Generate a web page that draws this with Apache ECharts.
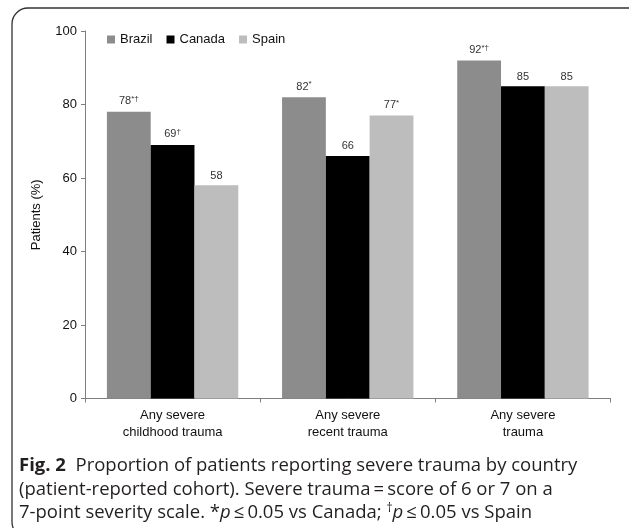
<!DOCTYPE html>
<html>
<head>
<meta charset="utf-8">
<script src="https://cdn.jsdelivr.net/npm/echarts@6/dist/echarts.min.js"></script>
<style>
  html, body { margin: 0; padding: 0; background: #fff; }
  #chart { width: 629px; height: 528px; }
</style>
</head>
<body>
<div id="chart"></div>
<script>
const categories = ['Any severe\nchildhood trauma', 'Any severe\nrecent trauma', 'Any severe\ntrauma']
const countries = ['Brazil', 'Canada', 'Spain']
const brazil = [78, 82, 92]
const canada = [69, 66, 85]
const spain = [58, 77, 85]
// significance marks shown after each value
const brazilMarks = ['*†', '*', '*†']
const canadaMarks = ['†', '', '']
const spainMarks = ['', '*', '']
const yTicks = [0, 20, 40, 60, 80, 100]

const colors = ['#8c8c8c', '#000000', '#bdbdbd']
const font = 'Liberation Sans, Arial, sans-serif'
const capFont = '"Open Sans", "Noto Sans", sans-serif'

const chart = echarts.init(document.getElementById('chart'))

function makeSeries(name, values, marks, i) {
  return {
    name, type: 'bar',
    data: values.map((v, k) => ({ value: v, mark: marks[k] })),
    itemStyle: { color: colors[i] },
    barGap: '0%', barCategoryGap: '25%',
    label: {
      show: true, position: 'top', distance: 4,
      formatter: (p) => p.data.mark ? `{v|${p.value}}{s|${p.data.mark}}` : `{v|${p.value}}`,
      rich: {
        v: { fontFamily: font, fontSize: 11, color: '#333' },
        s: { fontFamily: font, fontSize: 8, color: '#333', verticalAlign: 'top', padding: [0, 0, 5, 0] },
      },
    },
  }
}

chart.setOption({
  animation: false,
  color: colors,
  grid: { left: 85, right: 18.5, top: 31, bottom: 129.5 },
  legend: {
    data: countries, left: 102, top: 28,
    itemWidth: 8, itemHeight: 8, itemGap: 14, icon: 'rect',
    textStyle: { fontFamily: font, fontSize: 13, color: '#111' },
  },
  xAxis: {
    type: 'category', data: categories,
    axisLine: { lineStyle: { color: '#7f7f7f', width: 1 } },
    axisTick: { show: true, length: 4, lineStyle: { color: '#7f7f7f' } },
    axisLabel: { fontFamily: font, fontSize: 13, color: '#111', margin: 8, lineHeight: 17 },
  },
  yAxis: {
    type: 'value', min: yTicks[0], max: yTicks[yTicks.length - 1], interval: 20,
    name: 'Patients (%)', nameLocation: 'middle', nameGap: 42, nameRotate: 90,
    nameTextStyle: { fontFamily: font, fontSize: 13, color: '#111' },
    axisLine: { show: true, lineStyle: { color: '#7f7f7f', width: 1 } },
    axisTick: { show: true, length: 4, lineStyle: { color: '#7f7f7f' } },
    axisLabel: { fontFamily: font, fontSize: 13, color: '#111', margin: 8 },
    splitLine: { show: false },
  },
  series: [
    makeSeries('Brazil', brazil, brazilMarks, 0),
    makeSeries('Canada', canada, canadaMarks, 1),
    makeSeries('Spain', spain, spainMarks, 2),
  ],
  graphic: [
    {
      type: 'rect', silent: true,
      shape: { x: 12, y: 8, width: 660, height: 530, r: 16 },
      style: { fill: 'none', stroke: '#333', lineWidth: 1.3 },
    },
    {
      type: 'text', left: 19, top: 454, silent: true,
      style: {
        text: '{b|Fig. 2}  Proportion of patients reporting severe trauma by country\n' +
          '(patient-reported cohort). Severe trauma\u2009=\u2009score of 6 or 7 on a\n' +
          '7-point severity scale. *{i|p}\u2009≤\u20090.05 vs Canada; {sup|†}{i|p}\u2009≤\u20090.05 vs Spain',
        font: `18.5px ${capFont}`, fill: '#231f20', lineHeight: 23.5,
        rich: {
          b: { fontFamily: capFont, fontSize: 18.5, fontWeight: 'bold', fill: '#231f20' },
          i: { fontFamily: capFont, fontSize: 18.5, fontStyle: 'italic', fill: '#231f20' },
          sup: { fontFamily: capFont, fontSize: 12, fill: '#231f20', padding: [0, 0, 8, 0] },
        },
      },
    },
  ],
})
</script>
</body>
</html>
